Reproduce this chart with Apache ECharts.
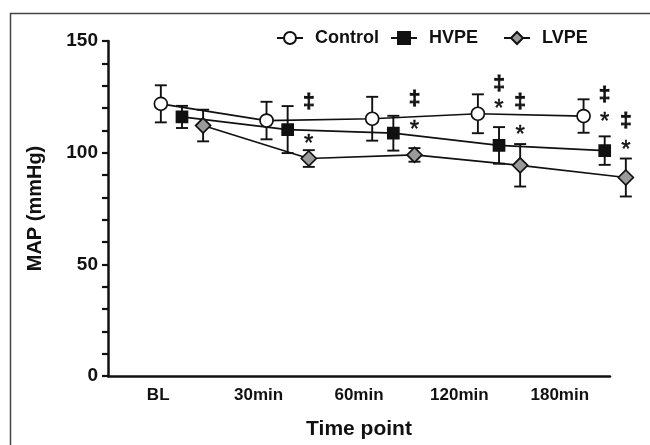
<!DOCTYPE html>
<html>
<head>
<meta charset="utf-8">
<script src="https://cdn.jsdelivr.net/npm/echarts@6/dist/echarts.min.js"></script>
<style>
html,body{margin:0;padding:0;background:#fff;}
#chart{width:650px;height:445px;}
</style>
</head>
<body>
<div id="chart"></div>
<script>
// ---- data ----
var categories = ['BL', '30min', '60min', '120min', '180min'];
var seriesNames = ['Control', 'HVPE', 'LVPE'];
var controlMean = [122.2, 114.8, 115.6, 117.8, 116.8];
var controlErr  = [8.2, 8.3, 9.7, 8.6, 7.4];
var hvpeMean    = [116.4, 110.8, 109.2, 103.8, 101.5];
var hvpeErr     = [4.9, 10.4, 7.7, 8.1, 6.3];
var lvpeMean    = [112.6, 98.0, 99.6, 95.0, 89.6];
var lvpeErr     = [7.0, 3.7, 3.0, 9.4, 8.4];
// significance marks: [category index, group index, value, mark]
var markCat   = [1, 1, 2, 2, 3, 3, 3, 3, 4, 4, 4, 4];
var markGroup = [2, 2, 2, 2, 1, 1, 2, 2, 1, 1, 2, 2];
var markValue = [122.7, 106.5, 124.3, 112.8, 131, 122.1, 122.9, 110.6, 125.8, 116.1, 114.3, 104];
var markText  = ['\u2021', '*', '\u2021', '*', '\u2021', '*', '\u2021', '*', '\u2021', '*', '\u2021', '*'];
var yTicks = [0, 50, 100, 150];

// ---- build ----
var FONT = '"Liberation Sans", Arial, sans-serif';
var TXT = '#111';
var DODGE = 0.2;
var means = [controlMean, hvpeMean, lvpeMean];
var errs = [controlErr, hvpeErr, lvpeErr];
var symbols = ['circle', 'rect', 'diamond'];
var sizes = [13, 11, 15];
var fills = ['#ffffff', '#111111', '#9a9a9a'];

function pts(g) {
  return means[g].map(function (v, i) { return [i + g * DODGE, v]; });
}

var series = [];
for (var g = 0; g < 3; g++) {
  series.push({
    type: 'custom',
    name: seriesNames[g] + ' err',
    xAxisIndex: 1, yAxisIndex: 1,
    silent: true,
    z: 2,
    data: means[g].map(function (v, i) { return [i + g * DODGE, v - errs[g][i], v + errs[g][i]]; }),
    renderItem: function (params, api) {
      var x = api.value(0);
      var lo = api.coord([x, api.value(1)]);
      var hi = api.coord([x, api.value(2)]);
      var hw = 6;
      var st = { stroke: '#111', lineWidth: 1.9 };
      return {
        type: 'group',
        children: [
          { type: 'line', shape: { x1: lo[0], y1: lo[1], x2: hi[0], y2: hi[1] }, style: st },
          { type: 'line', shape: { x1: lo[0] - hw, y1: lo[1], x2: lo[0] + hw, y2: lo[1] }, style: st },
          { type: 'line', shape: { x1: hi[0] - hw, y1: hi[1], x2: hi[0] + hw, y2: hi[1] }, style: st }
        ]
      };
    }
  });
}
for (var g2 = 0; g2 < 3; g2++) {
  series.push({
    type: 'line',
    name: seriesNames[g2],
    xAxisIndex: 1, yAxisIndex: 1,
    z: 3,
    data: pts(g2),
    symbol: symbols[g2],
    symbolSize: sizes[g2],
    showAllSymbol: true,
    lineStyle: { color: '#111', width: 1.7 },
    itemStyle: { color: fills[g2], borderColor: '#111', borderWidth: 1.7 },
    emphasis: { disabled: true }
  });
}
series.push({
  type: 'custom',
  name: 'marks',
  xAxisIndex: 1, yAxisIndex: 1,
  silent: true,
  z: 4,
  data: markCat.map(function (c, i) { return [c + markGroup[i] * DODGE, markValue[i]]; }),
  renderItem: function (params, api) {
    var p = api.coord([api.value(0), api.value(1)]);
    var t = markText[params.dataIndex];
    var star = t === '*';
    return {
      type: 'text',
      x: p[0], y: p[1] + (star ? 5 : 0),
      style: {
        text: t, fill: TXT, font: (star ? 'normal 24px ' : 'bold 21px ') + FONT,
        textAlign: 'center', textVerticalAlign: 'middle',
        stroke: TXT, lineWidth: star ? 0.5 : 0.8
      }
    };
  }
});

var legendLeft = [271, 385, 498];
var legends = seriesNames.map(function (n, i) {
  return {
    data: [n], left: legendLeft[i], top: 24,
    itemWidth: 26, itemHeight: 15, itemGap: 0,
    textStyle: { fontFamily: FONT, fontWeight: 'bold', fontSize: 18, color: TXT, padding: [0, 0, 0, 7] },
    selectedMode: false
  };
});

var chart = echarts.init(document.getElementById('chart'), null, { renderer: 'canvas' });
chart.setOption({
  animation: false,
  backgroundColor: '#fff',
  legend: legends,
  grid: [
    { left: 108, right: 40, top: 41, bottom: 65 },
    { left: 108, right: 10, top: 41, bottom: 65 }
  ],
  xAxis: [
    {
      type: 'category', data: categories, boundaryGap: true, gridIndex: 0,
      name: 'Time point', nameLocation: 'middle', nameGap: 43,
      nameTextStyle: { fontFamily: FONT, fontWeight: 'bold', fontSize: 21, color: TXT },
      axisLine: { lineStyle: { color: '#111', width: 2.5 } },
      axisTick: { alignWithLabel: true, length: 6, lineStyle: { color: '#111', width: 2.5 } },
      axisLabel: { fontFamily: FONT, fontWeight: 'bold', fontSize: 17, color: TXT, margin: 11 },
      splitLine: { show: false }
    },
    { type: 'value', gridIndex: 1, min: -0.5, max: 4.534, show: false, splitLine: { show: false } }
  ],
  yAxis: [
    {
      type: 'value', gridIndex: 0, min: 0, max: 150, interval: 10,
      name: 'MAP (mmHg)', nameLocation: 'middle', nameGap: 63, nameRotate: 90,
      nameTextStyle: { fontFamily: FONT, fontWeight: 'bold', fontSize: 20, color: TXT },
      axisLine: { show: true, onZero: false, lineStyle: { color: '#111', width: 2.5 } },
      axisTick: { show: true, length: 6, lineStyle: { color: '#111', width: 2.2 } },
      axisLabel: {
        fontFamily: FONT, fontWeight: 'bold', fontSize: 19, color: TXT, margin: 10,
        formatter: function (v) { return yTicks.indexOf(v) >= 0 ? String(v) : ''; }
      },
      splitLine: { show: false }
    },
    { type: 'value', gridIndex: 1, min: 0, max: 150, show: false, splitLine: { show: false } }
  ],
  graphic: [{
    type: 'rect', silent: true, z: 0,
    shape: { x: 10.5, y: 13.5, width: 700, height: 500 },
    style: { fill: 'none', stroke: '#444', lineWidth: 1.5 }
  }],
  series: series
});
</script>
</body>
</html>
